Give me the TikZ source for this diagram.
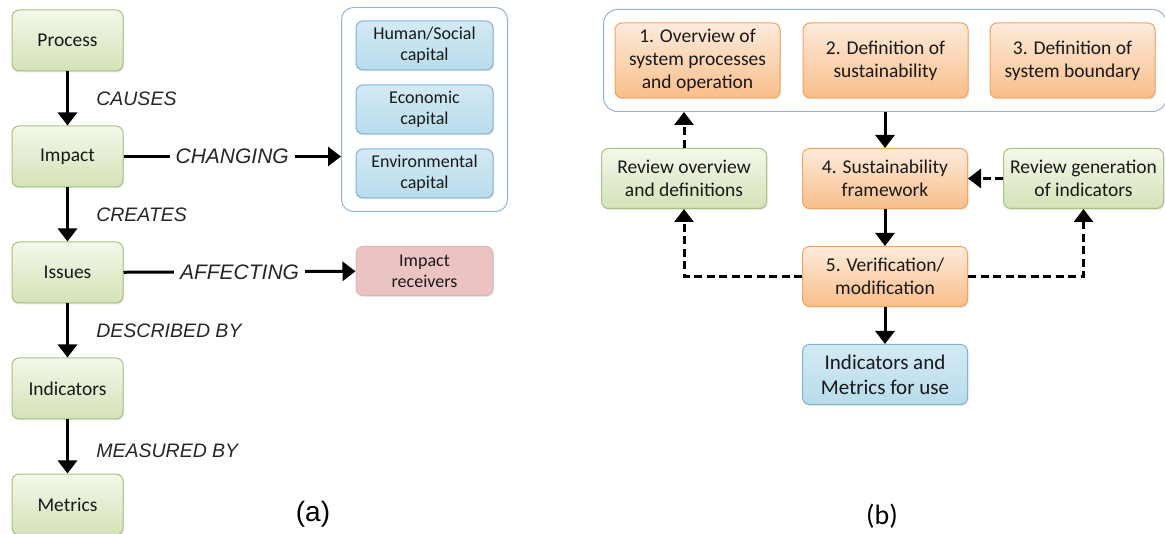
\documentclass[tikz,border=0pt]{standalone}
\usepackage{fontspec}
\setmainfont{Carlito}
\newfontfamily\arialfont{Liberation Sans}
\usetikzlibrary{arrows.meta,positioning,fit,shadows}
\definecolor{greentop}{HTML}{F4F8EA}
\definecolor{greenbot}{HTML}{D4E2B8}
\definecolor{greenline}{HTML}{A9C27E}
\definecolor{orangetop}{HTML}{FDEBDC}
\definecolor{orangebot}{HTML}{F9BE8A}
\definecolor{orangeline}{HTML}{F2A35E}
\definecolor{bluetop}{HTML}{D3EAF4}
\definecolor{bluebot}{HTML}{B8DCEB}
\definecolor{blueline}{HTML}{80B4D6}
\definecolor{pinkfill}{HTML}{EAC3C2}
\definecolor{pinkline}{HTML}{E2B6B5}
\definecolor{contline}{HTML}{95B3D7}
\tikzstyle{box}=[rectangle,rounded corners=7pt,line width=1pt,align=center,
  text=black!90,font=\fontsize{19.5}{23}\selectfont,
  drop shadow={opacity=0.18,shadow xshift=1pt,shadow yshift=-1.5pt}]
\tikzstyle{green box}=[box,draw=greenline,top color=greentop,bottom color=greenbot]
\tikzstyle{orange box}=[box,draw=orangeline,top color=orangetop,bottom color=orangebot]
\tikzstyle{blue box}=[box,draw=blueline,top color=bluetop,bottom color=bluebot]
\tikzstyle{pink box}=[box,draw=pinkline,fill=pinkfill]

\begin{document}
\begin{tikzpicture}[x=1pt,y=1pt,node distance=54pt,
    >={Triangle[length=13pt,width=19pt]}]
  \tikzstyle{flow}=[->,line width=3pt]
  \tikzstyle{review}=[->,line width=3pt,dash pattern=on 8pt off 4.5pt]
  \tikzstyle{verb}=[font=\arialfont\itshape\fontsize{19.5}{23}\selectfont,text=black!85]
  \tikzstyle{big verb}=[font=\arialfont\itshape\fontsize{21}{25}\selectfont,
    text=black!85,fill=white,inner xsep=6pt]
  \tikzstyle{stage}=[minimum width=111pt,minimum height=61pt]
  \tikzstyle{capital}=[minimum width=137pt,minimum height=49pt,
    font=\fontsize{18}{21}\selectfont]
  \tikzstyle{step box}=[minimum width=165pt,minimum height=75pt]
  \tikzstyle{loop box}=[minimum width=165pt,minimum height=60pt]
  \useasboundingbox (0,0) rectangle (1165,-534);

  % (a) chain from process to metrics
  \node[green box,stage] (process) at (67.5,-40.5) {Process};
  \node[green box,stage,below=of process] (impact) {Impact};
  \node[green box,stage,below=of impact] (issues) {Issues};
  \node[green box,stage,below=of issues] (indicators) {Indicators};
  \node[green box,stage,below=of indicators] (metrics) {Metrics};

  \path[flow] (process) edge node[verb,right=24pt] {CAUSES} (impact);
  \path[flow] (impact) edge node[verb,right=24pt] {CREATES} (issues);
  \path[flow] (issues) edge node[verb,right=24pt] {DESCRIBED BY} (indicators);
  \path[flow] (indicators) edge node[verb,right=24pt,yshift=-4pt] {MEASURED BY} (metrics);

  \node[blue box,capital] (human) at (424.5,-45.5) {Human/Social\\capital};
  \node[blue box,capital,below=14pt of human] (economic) {Economic\\capital};
  \node[blue box,capital,below=14pt of economic] (environmental) {Environmental\\capital};
  \node[draw=contline,line width=1pt,rounded corners=12pt,inner xsep=14pt,
    inner ysep=13pt,fit=(human)(economic)(environmental)] (capitals) {};
  \draw[flow] (impact) -- node[big verb] {CHANGING} (impact -| capitals.west);

  \node[pink box,capital] (receivers) at (424.5,-271) {Impact\\receivers};
  \draw[flow] (issues) -- node[big verb] {AFFECTING} (receivers);

  \node[font=\arialfont\fontsize{28}{32}\selectfont] (labela) at (313,-514) {(a)};

  % (b) generation of indicators
  \node[orange box,step box] (overview) at (697.5,-60.5) {1. Overview of\\system processes\\and operation};
  \node[orange box,step box,right=22pt of overview] (sustdef) {2. Definition of\\sustainability};
  \node[orange box,step box,right=21pt of sustdef] (boundary) {3. Definition of\\system boundary};
  \node[draw=contline,line width=1pt,rounded corners=14pt,inner xsep=11pt,
    inner ysep=13pt,fit=(overview)(sustdef)(boundary)] (stages) {};

  \node[orange box,loop box,below=36pt of stages] (framework) {4. Sustainability\\framework};
  \node[orange box,loop box,below=37pt of framework] (verify) {5. Verification/\\modification};
  \node[blue box,loop box,below=37pt of verify,
    font=\fontsize{21}{25}\selectfont] (use) {Indicators and\\Metrics for use};
  \node[green box,loop box,left=35pt of framework] (review1) {Review overview\\and definitions};
  \node[green box,loop box,minimum width=160pt,right=35pt of framework] (review2) {Review generation\\of indicators};

  \draw[flow] (stages.south -| framework) -- (framework);
  \path[flow] (framework) edge (verify);
  \path[flow] (verify) edge (use);
  \draw[review] (verify.west) -| (review1.south);
  \draw[review] (verify.east) -| (review2.south);
  \draw[review] (review1.north) -- (review1.north |- stages.south);
  \draw[review] (review2.west) -- (framework.east);

  \node[font=\fontsize{28}{32}\selectfont] (labelb) at (882,-516) {(b)};
\end{tikzpicture}
\end{document}
